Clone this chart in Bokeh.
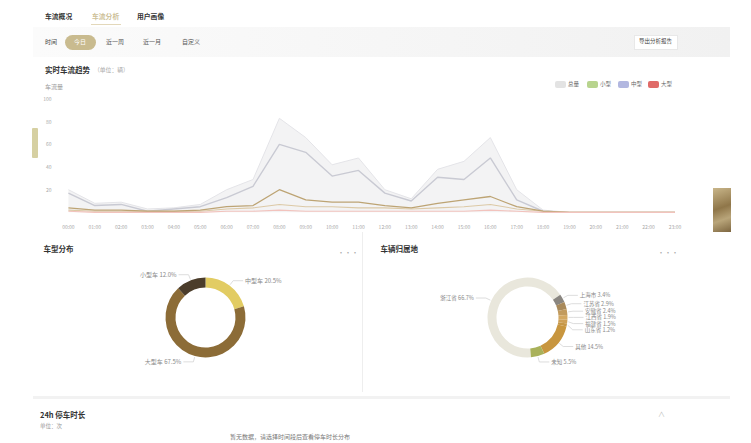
import numpy as np
from bokeh.plotting import figure
from bokeh.models import Range1d, FixedTicker, Div, ColumnDataSource
from bokeh.layouts import column, row
from bokeh.embed import file_html
from bokeh.resources import INLINE
from bokeh.core.properties import value

FONT = "Noto Sans CJK SC"

# ---------------- data ----------------
hours = list(range(24))
hour_labels = [f"{h:02d}:00" for h in hours]
y_ticks = [20, 40, 60, 80, 100]
total_flow = [17, 6, 7, 1, 3, 5, 13, 23, 60, 53, 32, 37, 17, 10, 31, 29, 48, 11, 1, 0, 0, 0, 0, 0]
peak_flow = [20, 8, 9, 3, 4, 7, 20, 29, 83, 66, 42, 48, 20, 12, 38, 45, 66, 20, 2, 0, 0, 0, 0, 0]
small_car = [4, 2, 2, 1, 1, 2, 5, 6, 20, 11, 9, 9, 6, 4, 8, 11, 14, 5, 1, 0, 0, 0, 0, 0]
medium_car = [2, 1, 1, 1, 1, 1, 3, 4, 7, 5, 5, 4, 4, 3, 4, 5, 7, 3, 1, 0, 0, 0, 0, 0]
large_car = [1, 0, 0, 0, 0, 0, 1, 1, 2, 1, 1, 1, 1, 1, 1, 1, 2, 1, 0, 0, 0, 0, 0, 0]

legend_names = ["总量", "小型", "中型", "大型"]
legend_colors = ["#e3e3e3", "#b8d48e", "#b2b7e0", "#e06b68"]

type_names = ["中型车", "大型车", "小型车"]
type_share = [20.5, 67.5, 12.0]
type_colors = ["#e2cc63", "#8c6c37", "#4b3d2b"]

region_names = ["浙江省", "上海市", "江苏省", "安徽省", "江西省", "福建省", "山东省", "其他", "未知"]
region_share = [66.7, 3.4, 2.9, 2.4, 1.9, 1.5, 1.2, 14.5, 5.5]
region_colors = ["#e9e7dc", "#8a8680", "#a8895a", "#c29b5e", "#d3a862", "#cea056", "#c69747",
                 "#c8963f", "#a9b15a"]


def txt(x, y, t, fs=6, color="#333", weight="normal", extra=""):
    return (f'<div style="position:absolute;left:{x}px;top:{y}px;font-size:{fs}px;color:{color};'
            f'font-weight:{weight};white-space:nowrap;line-height:1;{extra}">{t}</div>')


def box(x, y, w, h, bg, extra=""):
    return (f'<div style="position:absolute;left:{x}px;top:{y}px;width:{w}px;height:{h}px;'
            f'background:{bg};{extra}"></div>')


def panel(items, w, h):
    return Div(text=(f'<div style="position:relative;width:{w}px;height:{h}px;overflow:hidden;'
                     f'font-family:\'Noto Sans CJK SC\';">' + "".join(items) + "</div>"),
               width=w, height=h, margin=0)


# ---------------- header ----------------
hdr = []
hdr.append(txt(37, 5, "车流概况", 6.8, "#333", "bold"))
hdr.append(txt(84, 5, "车流分析", 6.8, "#cdbf98", "bold"))
hdr.append(box(83, 16, 30, 1, "#e3d8ba"))
hdr.append(txt(129, 5, "用户画像", 6.8, "#333", "bold"))
hdr.append(box(25, 19, 697, 30, "linear-gradient(to right,#fbfbfb,#f1f1f1)"))
hdr.append(txt(37, 31, "时间", 6, "#444"))
hdr.append(box(57, 27, 31, 15, "#c9bb8f", "border-radius:8px;"))
hdr.append(txt(66, 31, "今日", 6, "#fff"))
hdr.append(txt(98, 31, "近一周", 6, "#555"))
hdr.append(txt(135, 31, "近一月", 6, "#555"))
hdr.append(txt(174, 31, "自定义", 6, "#555"))
hdr.append(box(626, 27, 44, 15, "#fff", "border:1px solid #e8e8e8;box-sizing:border-box;"))
hdr.append(txt(631, 31, "导出分析报告", 5.5, "#444"))
hdr.append(txt(37, 58, "实时车流趋势", 7.5, "#333", "bold"))
hdr.append(txt(86, 59, "（单位：辆）", 5.8, "#aaa"))
hdr.append(txt(37, 76, "车流量", 6, "#999"))
lx = [547, 579, 610, 640]
for i, (nm, c) in enumerate(zip(legend_names, legend_colors)):
    hdr.append(box(lx[i], 73, 11, 7, c, "border-radius:2px;"))
    hdr.append(txt(lx[i] + 13, 74, nm, 5.5, "#666"))
header = panel(hdr, 735, 84)

# ---------------- line chart ----------------
lf = figure(width=673, height=140, x_range=Range1d(-0.3, 23.4), y_range=Range1d(-1, 104),
            output_backend="svg", toolbar_location=None, min_border_left=9, min_border_right=28,
            min_border_top=2, min_border_bottom=18, outline_line_color=None,
            background_fill_color="white", border_fill_color="white")
src = ColumnDataSource(dict(h=hours, total=total_flow, peak=peak_flow, s=small_car, m=medium_car,
                            l=large_car))
lf.varea(x="h", y1=0, y2="peak", source=src, fill_color="#f3f3f4", fill_alpha=1)
lf.line("h", "peak", source=src, line_color="#e4e4e8", line_width=1)
lf.line("h", "total", source=src, line_color="#c9cad3", line_width=1.4)
lf.line("h", "m", source=src, line_color="#dcc9a6", line_width=1.1)
lf.line("h", "s", source=src, line_color="#bda474", line_width=1.3)
lf.line("h", "l", source=src, line_color="#f2c3bd", line_width=1.1)
lf.xaxis.ticker = FixedTicker(ticks=hours)
lf.xaxis.major_label_overrides = {h: lab for h, lab in zip(hours, hour_labels)}
lf.yaxis.ticker = FixedTicker(ticks=y_ticks)
for ax in lf.axis:
    ax.axis_line_color = None
    ax.major_tick_line_color = None
    ax.minor_tick_line_color = None
    ax.major_label_text_font_size = "5px"
    ax.major_label_text_color = "#a8a8a8"
    ax.major_label_text_font = FONT
lf.xaxis.major_label_standoff = 3
lf.yaxis.major_label_standoff = 3
lf.grid.visible = False

side_tab = panel([box(24, 36, 6, 30, "#d6d0a2", "border-radius:1px;")], 32, 140)
thumb = panel([box(0, 96, 18, 44, "linear-gradient(160deg,#c9b68a,#8f7649 45%,#b9a57a 70%,#7d6640)")],
              30, 140)

# ---------------- donuts ----------------
def donut_fig(W, H):
    p = figure(width=W, height=H, x_range=Range1d(0, W), y_range=Range1d(0, H),
               output_backend="svg", toolbar_location=None, min_border=0,
               x_axis_type=None, y_axis_type=None, outline_line_color=None,
               background_fill_color="white", border_fill_color="white")
    p.grid.visible = False
    return p


def draw_donut(p, cx, cy, names, shares, colors, start_deg, r_in, r_out, fs, spacing):
    fr = np.array(shares, dtype=float) / np.sum(shares)
    ends = start_deg + np.cumsum(fr) * 360.0
    starts = ends - fr * 360.0
    p.annular_wedge(x=cx, y=cy, inner_radius=r_in, outer_radius=r_out,
                    start_angle=np.radians(90 - ends), end_angle=np.radians(90 - starts),
                    fill_color=colors, line_color=None)
    mids = np.radians((starts + ends) / 2.0)
    ex = cx + (r_out + 1) * np.sin(mids)
    ey = cy + (r_out + 1) * np.cos(mids)
    rx = cx + (r_out + 6) * np.sin(mids)
    ry = cy + (r_out + 6) * np.cos(mids)
    side = np.where(np.sin(mids) >= 0, 1, -1)
    ly = ry.copy()
    for sgn in (1, -1):
        idx = [i for i in range(len(mids)) if side[i] == sgn]
        idx.sort(key=lambda i: -ry[i])
        for k in range(1, len(idx)):
            if ly[idx[k - 1]] - ly[idx[k]] < spacing:
                ly[idx[k]] = ly[idx[k - 1]] - spacing
    hx = rx + side * 10
    xs = [[ex[i], rx[i], hx[i]] for i in range(len(mids))]
    ys = [[ey[i], ly[i], ly[i]] for i in range(len(mids))]
    p.multi_line(xs=xs, ys=ys, line_color="#cfcfcf", line_width=0.7)
    labels = [f"{n} {v:.1f}%" for n, v in zip(names, shares)]
    for sgn, align in ((1, "left"), (-1, "right")):
        sel = [i for i in range(len(mids)) if side[i] == sgn]
        p.text(x=[hx[i] + sgn * 2 for i in sel], y=[ly[i] for i in sel], text=[labels[i] for i in sel],
               text_font=value(FONT), text_font_size=f"{fs}px", text_color="#888",
               text_align=align, text_baseline="middle")


H2 = 160
left = donut_fig(354, H2)
left.text(x=[35], y=[144], text=["车型分布"], text_font=value(FONT), text_font_size="7.5px",
          text_font_style="bold", text_color="#333", text_baseline="middle")
left.text(x=[329], y=[141], text=["···"], text_font=value(FONT), text_font_size="7px",
          text_color="#aaa", text_baseline="middle")
draw_donut(left, 197, 75, type_names, type_share, type_colors, 0.0, 30, 40, 6, 6)

divider = Div(text="", width=1, height=H2, margin=0,
              styles={"background-color": "#eeeeee"})

right = donut_fig(380, H2)
right.text(x=[17], y=[144], text=["车辆归属地"], text_font=value(FONT), text_font_size="7.5px",
           text_font_style="bold", text_color="#333", text_baseline="middle")
right.text(x=[294], y=[141], text=["···"], text_font=value(FONT), text_font_size="7px",
           text_color="#aaa", text_baseline="middle")
draw_donut(right, 164, 75, region_names, region_share, region_colors, 175.0, 31, 40, 5.5, 6.2)

# ---------------- bottom ----------------
bt = []
bt.append(box(25, 4, 697, 3, "#f2f2f2"))
bt.append(txt(32, 19, "24h 停车时长", 7.5, "#333", "bold"))
bt.append(txt(32, 32, "单位：次", 5.5, "#999"))
bt.append(txt(650, 19, "∧", 7, "#bbb"))
bt.append(txt(222, 42, "暂无数据，请选择时间段后查看停车时长分布", 6, "#777"))
bottom = panel(bt, 735, 49)

layout = column(header, row(side_tab, lf, thumb, spacing=0),
                row(left, divider, right, spacing=0), bottom, spacing=0, margin=(8, 0, 0, 8))
open("out.html", "w").write(file_html(layout, INLINE))
